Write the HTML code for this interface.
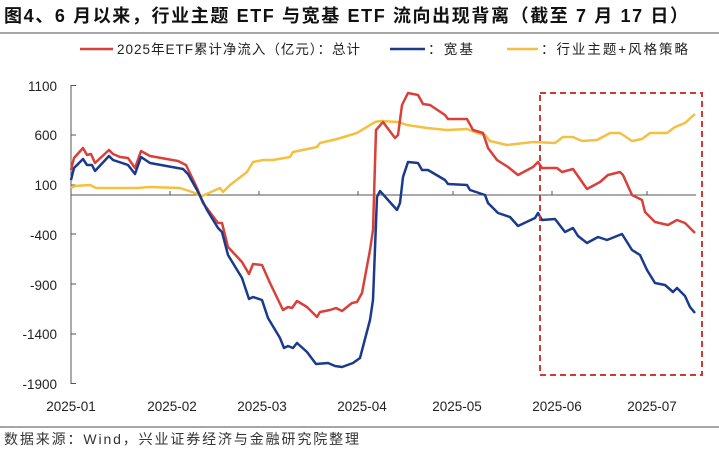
<!DOCTYPE html>
<html><head><meta charset="utf-8"><style>
body{margin:0;background:#fff;width:719px;height:448px;overflow:hidden;font-family:"Liberation Sans","Noto Sans CJK SC",sans-serif}
</style></head><body>
<svg width="719" height="448" xmlns="http://www.w3.org/2000/svg" font-family="Liberation Sans, Noto Sans CJK SC, sans-serif">
<text x="4" y="22" font-size="18" font-weight="bold" fill="#111" textLength="684" lengthAdjust="spacing">图4、6 月以来，行业主题 ETF 与宽基 ETF 流向出现背离（截至 7 月 17 日）</text>
<line x1="0" y1="33" x2="719" y2="33" stroke="#888" stroke-width="1.5"/>
<g font-size="13.5" fill="#222">
<line x1="80" y1="49" x2="113" y2="49" stroke="#d9403a" stroke-width="2.5"/>
<text x="117" y="54" textLength="243" lengthAdjust="spacing">2025年ETF累计净流入（亿元）：总计</text>
<line x1="390" y1="49" x2="425" y2="49" stroke="#1a3a8c" stroke-width="2.5"/>
<text x="428" y="54" textLength="45" lengthAdjust="spacing">：宽基</text>
<line x1="507" y1="49" x2="538" y2="49" stroke="#f5c040" stroke-width="2.5"/>
<text x="541" y="54" textLength="147" lengthAdjust="spacing">：行业主题+风格策略</text>
</g>
<g font-size="13.5" fill="#222" text-anchor="end">
<text x="57" y="91">1100</text><text x="57" y="140">600</text><text x="57" y="190">100</text>
<text x="57" y="240">-400</text><text x="57" y="290">-900</text><text x="57" y="339">-1400</text><text x="57" y="389">-1900</text>
</g>
<g stroke="#555" stroke-width="1">
<line x1="71" y1="85" x2="71" y2="384"/>
<line x1="71" y1="85.5" x2="76" y2="85.5"/><line x1="71" y1="135" x2="76" y2="135"/><line x1="71" y1="185" x2="76" y2="185"/>
<line x1="71" y1="234" x2="76" y2="234"/><line x1="71" y1="284" x2="76" y2="284"/><line x1="71" y1="334" x2="76" y2="334"/><line x1="71" y1="383.5" x2="76" y2="383.5"/>
<line x1="71" y1="195" x2="696" y2="195"/>
<line x1="170" y1="195" x2="170" y2="191"/><line x1="259" y1="195" x2="259" y2="191"/><line x1="358" y1="195" x2="358" y2="191"/>
<line x1="453" y1="195" x2="453" y2="191"/><line x1="552" y1="195" x2="552" y2="191"/><line x1="647" y1="195" x2="647" y2="191"/>
</g>
<g font-size="13.5" fill="#222" text-anchor="middle">
<text x="71" y="411">2025-01</text><text x="172" y="411">2025-02</text><text x="262" y="411">2025-03</text>
<text x="362" y="411">2025-04</text><text x="457" y="411">2025-05</text><text x="557" y="411">2025-06</text><text x="652" y="411">2025-07</text>
</g>
<g fill="none" stroke-width="2.5" stroke-linejoin="round">
<polyline stroke="#f5c040" points="71,188 75,186 90,185 96,188 113,188 137,188 150,187 180,188 192,192 202,196 220,188 223,192 230,185 247,172 253,162 263,160 273,160 290,157 293,152 317,147 320,143 337,139 357,133 375,122 380,121 398,122 407,125 427,128 447,130 467,129 477,133 485,135 490,141 507,145 533,142 555,143 563,137 573,137 582,141 597,140 610,133 620,133 632,141 642,139 650,133 667,133 675,127 685,123 695,114"/>
<polyline stroke="#d9403a" points="71,170 74,158 83,148 87,155 91,154 95,163 109,150 113,154 120,157 128,158 135,168 141,151 150,156 178,161 186,165 197,188 203,203 218,223 222,223 228,247 242,262 249,274 253,264 262,265 270,283 283,310 288,307 292,308 297,301 307,307 317,317 320,312 330,310 336,308 342,311 352,303 357,302 362,293 370,250 373,230 376,130 383,122 395,138 398,135 402,105 408,93 418,95 423,104 430,105 445,115 448,119 467,119 473,130 483,133 488,148 497,160 508,167 518,175 533,167 538,162 542,168 557,168 562,172 573,169 587,189 600,182 608,175 620,172 623,175 632,195 642,200 645,212 655,222 668,225 677,220 685,223 695,233"/>
<polyline stroke="#1a3a8c" points="71,180 74,168 83,159 87,165 92,165 95,171 109,156 113,160 128,165 135,174 141,157 150,163 183,169 188,174 197,190 207,210 218,228 222,232 228,255 242,278 249,299 253,297 262,300 268,318 280,338 284,348 288,346 293,348 297,343 307,352 316,364 328,363 335,366 342,367 353,363 360,358 370,320 373,300 377,197 380,191 397,210 400,203 403,177 408,162 418,163 422,170 428,170 445,180 448,184 467,185 470,190 485,195 488,203 498,213 510,217 518,226 535,218 538,213 542,220 555,219 565,232 573,228 578,236 587,243 598,237 607,240 622,234 632,250 640,255 647,270 655,283 665,285 673,292 677,288 685,296 690,307 695,313"/>
</g>
<rect x="540" y="93" width="162" height="282" fill="none" stroke="#d03a35" stroke-width="2" stroke-dasharray="6,4"/>
<line x1="0" y1="427" x2="719" y2="427" stroke="#888" stroke-width="1.5"/>
<text x="4" y="444" font-size="14" fill="#333" textLength="355" lengthAdjust="spacing">数据来源：Wind，兴业证券经济与金融研究院整理</text>
</svg>
</body></html>
